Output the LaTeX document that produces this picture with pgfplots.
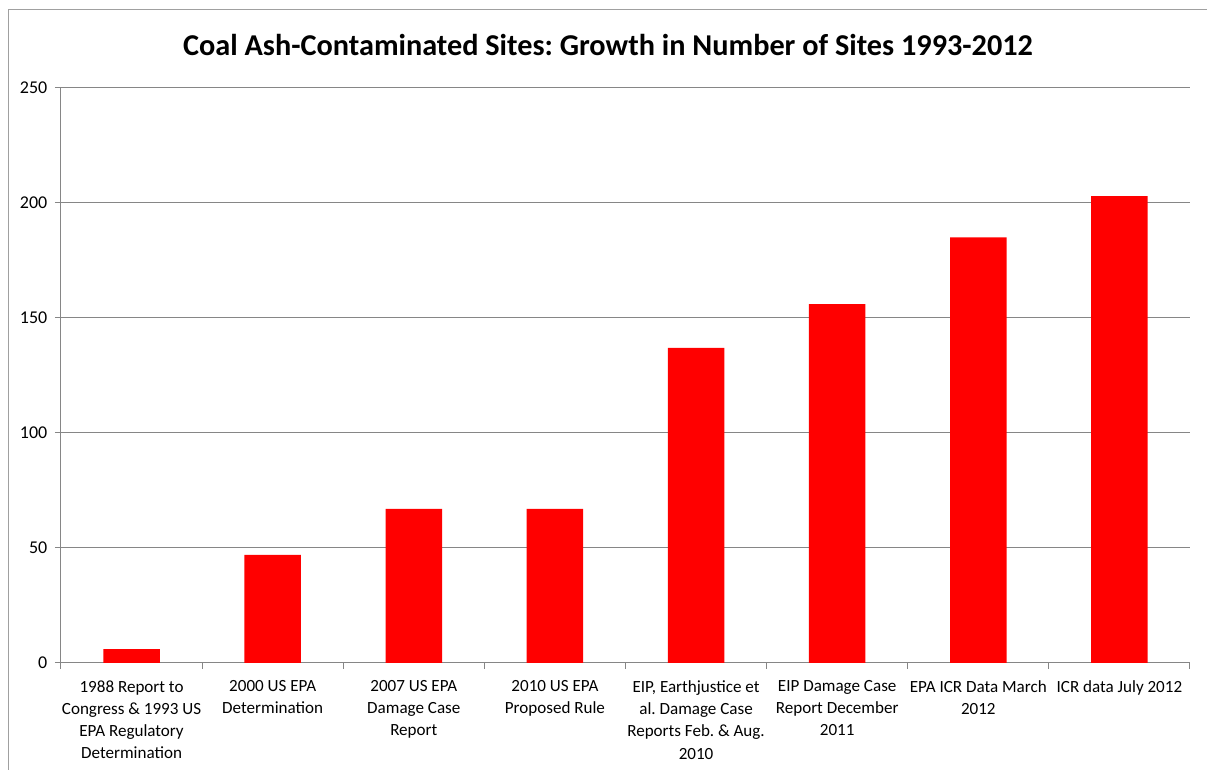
\documentclass[border=0pt]{standalone}
\usepackage{pgfplots}
\pgfplotsset{compat=1.18}
\usepackage{fontspec}
\setmainfont{Carlito}
\frenchspacing
\definecolor{gridgray}{RGB}{134,134,134}
\definecolor{framegray}{RGB}{160,160,160}
\begin{document}
\begin{tikzpicture}
\path[use as bounding box] (0pt,0pt) rectangle (905.25pt,577.5pt);
\draw[framegray, line width=0.75pt] (6pt,0pt) -- (6pt,570pt) -- (905.25pt,570pt);
\node[font=\fontsize{22.7}{26}\selectfont\bfseries] at (456pt,543.5pt) {Coal Ash-Contaminated Sites: Growth in Number of Sites 1993-2012};
\begin{axis}[
  at={(45.75pt,80.25pt)}, anchor=south west,
  scale only axis, width=846.75pt, height=431.25pt,
  xmin=-0.5, xmax=7.5, ymin=0, ymax=250,
  axis x line*=bottom, axis y line*=left,
  axis line style={gridgray, line width=0.75pt},
  ybar, bar width=0.4,
  ytick={0,50,...,250},
  ymajorgrids, grid style={gridgray, line width=0.75pt},
  xtick={0,...,7},
  minor xtick={-0.5,0.5,...,7.5},
  major x tick style={draw=none},
  minor tick length=4.5pt,
  major tick length=4.5pt,
  tick align=outside,
  tick style={gridgray, line width=0.75pt},
  xticklabels={{1988 Report to\\Congress \& 1993 US\\EPA Regulatory\\Determination},
    {2000 US EPA\\Determination},
    {2007 US EPA\\Damage Case\\Report},
    {2010 US EPA\\Proposed Rule},
    {EIP, Earthjustice et\\al. Damage Case\\Reports Feb. \& Aug.\\2010},
    {EIP Damage Case\\Report December\\2011},
    {EPA ICR Data March\\2012},
    {ICR data July 2012}},
  xticklabel style={align=center, font=\fontsize{12.8}{16.7}\selectfont, yshift=-5pt},
  yticklabel style={font=\fontsize{13.5}{16.5}\selectfont, xshift=-2.25pt},
  /pgf/number format/assume math mode=true,
  scaled y ticks=false,
  clip=false,
]
\addplot[fill=red, draw=none] coordinates {(0,6) (1,47) (2,67) (3,67) (4,137) (5,156) (6,185) (7,203)};
\end{axis}
\end{tikzpicture}
\end{document}
